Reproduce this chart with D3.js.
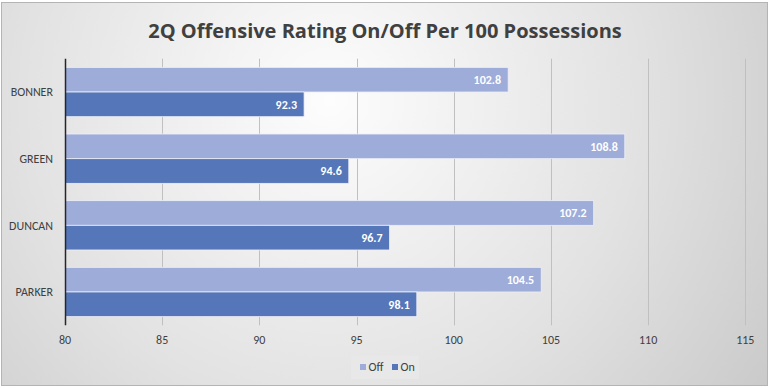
<!DOCTYPE html>
<html><head><meta charset="utf-8">
<script src="https://cdn.jsdelivr.net/npm/d3@7"></script>
<style>body{margin:0;background:#fff}svg{display:block}</style>
</head><body>
<script>
const categories = ["BONNER","GREEN","DUNCAN","PARKER"];
const seriesNames = ["Off","On"];
const offValues = [102.8,108.8,107.2,104.5];
const onValues = [92.3,94.6,96.7,98.1];
const xTicks = [80,85,90,95,100,105,110,115];
const colors = {Off:"#9eacd9", On:"#5576b8"};

const W=770,H=388;
const svg=d3.select("body").append("svg").attr("width",W).attr("height",H);
const defs=svg.append("defs");
const rg=defs.append("radialGradient").attr("id","bg").attr("gradientUnits","userSpaceOnUse")
  .attr("cx",330).attr("cy",100).attr("r",560);
rg.append("stop").attr("offset","0").attr("stop-color","#fdfdfd");
rg.append("stop").attr("offset","0.55").attr("stop-color","#e2e2e2");
rg.append("stop").attr("offset","1").attr("stop-color","#c6c6c6");
svg.append("rect").attr("x",1.5).attr("y",2.5).attr("width",766).attr("height",383)
  .attr("fill","url(#bg)").attr("stroke","#b4b4b4").attr("stroke-width",1);

const font="Carlito, 'Open Sans', 'Noto Sans', sans-serif";
const title=svg.append("text").attr("x",385).attr("y",38).attr("text-anchor","middle")
  .attr("font-family","'Open Sans', sans-serif").attr("font-weight","bold").attr("font-size",20)
  .attr("fill","#404040").text("2Q Offensive Rating On/Off Per 100 Possessions");
const tl=title.node().getComputedTextLength();
title.attr("font-size",20*474/tl);

const x=d3.scaleLinear().domain([80,115]).range([65,745.3]);
const y0=d3.scaleBand().domain(categories).range([58.7,325.3]).paddingInner(0.26).paddingOuter(0.13);
const y1=d3.scaleBand().domain(seriesNames).range([0,y0.bandwidth()]);

const g=svg.append("g");
g.append("g").selectAll("line").data(xTicks.slice(1)).join("line")
  .attr("x1",d=>Math.round(x(d))+0.5).attr("x2",d=>Math.round(x(d))+0.5)
  .attr("y1",58.7).attr("y2",325.3).attr("stroke","#c0c0c0").attr("stroke-width",1);

const data=categories.map((c,i)=>({cat:c,vals:[{s:"Off",v:offValues[i]},{s:"On",v:onValues[i]}]}));
const grp=g.selectAll("g.cat").data(data).join("g").attr("class","cat")
  .attr("transform",d=>`translate(0,${y0(d.cat)})`);
grp.selectAll("rect").data(d=>d.vals).join("rect")
  .attr("x",x(80)).attr("y",d=>y1(d.s)).attr("width",d=>x(d.v)-x(80)).attr("height",y1.bandwidth())
  .attr("fill",d=>colors[d.s]).attr("stroke","#eef0f8").attr("stroke-width",0.8);
grp.selectAll("text").data(d=>d.vals).join("text")
  .attr("x",d=>x(d.v)-7).attr("y",d=>y1(d.s)+y1.bandwidth()/2).attr("dy","0.35em")
  .attr("text-anchor","end").attr("font-family",font).attr("font-weight","bold").attr("font-size",12)
  .attr("fill","#fff").text(d=>d.v.toFixed(1));

svg.append("line").attr("x1",65.5).attr("x2",65.5).attr("y1",58.7).attr("y2",325.3)
  .attr("stroke","#262626").attr("stroke-width",1.5);
svg.append("g").selectAll("text").data(categories).join("text")
  .attr("x",53).attr("y",d=>y0(d)+y0.bandwidth()/2).attr("dy","0.35em").attr("text-anchor","end")
  .attr("font-family",font).attr("font-size",12).attr("fill","#404040").text(d=>d);
svg.append("g").selectAll("text").data(xTicks).join("text")
  .attr("x",d=>x(d)).attr("y",340).attr("dy","0.35em").attr("text-anchor","middle")
  .attr("font-family",font).attr("font-size",12).attr("fill","#404040").text(d=>d);

const lg=svg.append("g");
lg.append("rect").attr("x",351).attr("y",355.5).attr("width",68).attr("height",23.5).attr("fill","#e8e8e8");
const items=[{s:"Off",x:360},{s:"On",x:392}];
items.forEach(it=>{
  lg.append("rect").attr("x",it.x).attr("y",364).attr("width",6).attr("height",6).attr("fill",colors[it.s]);
  lg.append("text").attr("x",it.x+8.5).attr("y",367).attr("dy","0.35em").attr("font-family",font)
    .attr("font-size",12).attr("fill","#404040").text(it.s);
});
</script>
</body></html>
